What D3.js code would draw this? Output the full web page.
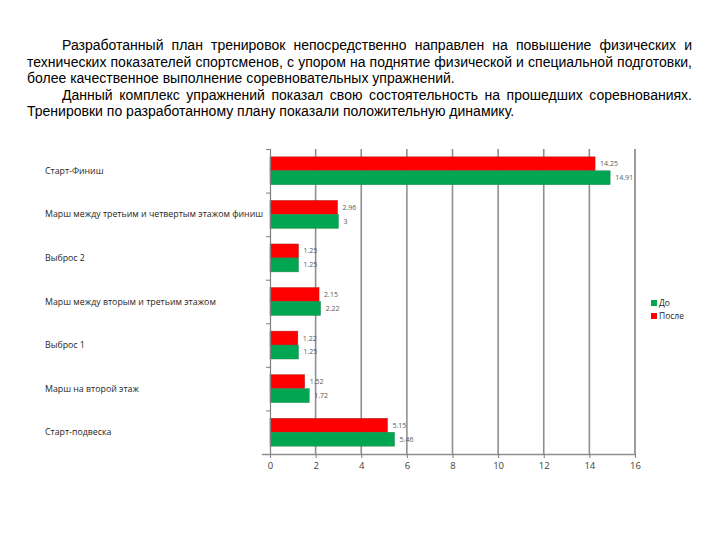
<!DOCTYPE html>
<html>
<head>
<meta charset="utf-8">
<script src="https://cdn.jsdelivr.net/npm/d3@7"></script>
<style>
  html, body { margin: 0; padding: 0; background: #fff; }
  svg { display: block; }
</style>
</head>
<body>
<svg id="chart" width="720" height="540"></svg>
<script>
// ---- Data ----
const categories = [
  "Старт-подвеска",
  "Марш на второй этаж",
  "Выброс 1",
  "Марш между вторым и третьим этажом",
  "Выброс 2",
  "Марш между третьим и четвертым этажом финиш",
  "Старт-Финиш"
];
const seriesNames = ["До", "После"];
const valuesBefore = [5.46, 1.72, 1.25, 2.22, 1.25, 3, 14.91];
const valuesAfter  = [5.15, 1.52, 1.22, 2.15, 1.25, 2.96, 14.25];
const xTicks = [0, 2, 4, 6, 8, 10, 12, 14, 16];

const paragraphLines = [
  { text: "Разработанный план тренировок непосредственно направлен на повышение физических и", indent: true, justify: true },
  { text: "технических показателей спортсменов, с упором на поднятие физической и специальной подготовки,", indent: false, justify: true },
  { text: "более качественное выполнение соревновательных упражнений.", indent: false, justify: false },
  { text: "Данный комплекс упражнений показал свою состоятельность на прошедших соревнованиях.", indent: true, justify: true },
  { text: "Тренировки по разработанному плану показали положительную динамику.", indent: false, justify: false }
];

const svg = d3.select("#chart");

// ---- Paragraph text ----
const textLeft = 27, textRight = 692, indentX = 62;
const paraFont = "'Liberation Sans', Arial, sans-serif";
const pg = svg.append("g");
const probe = pg.append("text").attr("font-family", paraFont).attr("font-size", 13).text(paragraphLines[2].text);
const probeW = probe.node().getComputedTextLength();
probe.remove();
const paraSize = Math.min(15, 13 * 428 / probeW);
const baselines = [50, 66.5, 83, 99.5, 116];
paragraphLines.forEach((ln, i) => {
  const x0 = ln.indent ? indentX : textLeft;
  const t = pg.append("text")
    .attr("x", x0).attr("y", baselines[i])
    .attr("font-family", paraFont)
    .attr("font-size", paraSize)
    .attr("fill", "#000")
    .text(ln.text);
  if (ln.justify) {
    const w = t.node().getComputedTextLength();
    const spaces = (ln.text.match(/ /g) || []).length;
    const extra = (textRight - x0 - w) / spaces;
    t.attr("word-spacing", extra);
  }
});

// ---- Chart ----
const pLeft = 270, pRight = 635, pTop = 149, pBottom = 454;
const x = d3.scaleLinear().domain([0, 16]).range([pLeft, pRight]);
const y0 = d3.scaleBand()
  .domain(categories.slice().reverse())
  .range([pTop, pBottom])
  .paddingInner(0.36)
  .paddingOuter(0.18);
const y1 = d3.scaleBand().domain(["После", "До"]).range([0, y0.bandwidth()]);
const color = d3.scaleOrdinal().domain(seriesNames).range(["#00A651", "#FF0000"]);
const stroke = d3.scaleOrdinal().domain(seriesNames).range(["#2E8B57", "#B22222"]);

// gridlines
const grid = svg.append("g");
grid.selectAll("line").data(xTicks.filter(d => d > 0)).join("line")
  .attr("x1", d => x(d)).attr("x2", d => x(d))
  .attr("y1", pTop).attr("y2", pBottom)
  .attr("stroke", d => d === 16 ? "#5a5a5a" : "#8f8f8f")
  .attr("stroke-width", d => d === 16 ? 1.2 : 1.6);

// bars
const rows = categories.map((c, i) => ({ cat: c, vals: [
  { s: "После", v: valuesAfter[i] },
  { s: "До", v: valuesBefore[i] }
]}));
const g = svg.append("g");
const groups = g.selectAll("g").data(rows).join("g")
  .attr("transform", d => `translate(0,${y0(d.cat)})`);
groups.selectAll("rect").data(d => d.vals).join("rect")
  .attr("x", x(0))
  .attr("y", d => y1(d.s))
  .attr("width", d => x(d.v) - x(0))
  .attr("height", y1.bandwidth())
  .attr("fill", d => color(d.s))
  .attr("stroke", d => stroke(d.s))
  .attr("stroke-width", 0.5);
groups.selectAll("text").data(d => d.vals).join("text")
  .attr("x", d => x(d.v) + 5)
  .attr("y", d => y1(d.s) + y1.bandwidth() / 2)
  .attr("dy", "0.35em")
  .attr("font-family", "'Open Sans', sans-serif")
  .attr("font-size", 7)
  .attr("fill", "#595959")
  .text(d => String(d.v));

// y axis (ticks at band boundaries)
const yLin = d3.scaleLinear().domain([0, categories.length]).range([pTop, pBottom]);
const yAxis = svg.append("g").attr("transform", `translate(${pLeft},0)`)
  .call(d3.axisLeft(yLin).tickValues(d3.range(categories.length + 1)).tickSize(4).tickFormat(""));
yAxis.select(".domain").attr("stroke", "#7f7f7f").attr("stroke-width", 1.2);
yAxis.selectAll(".tick line").attr("stroke", "#7f7f7f");

// category labels
svg.append("g").selectAll("text").data(categories).join("text")
  .attr("x", 45)
  .attr("y", d => y0(d) + y0.bandwidth() / 2)
  .attr("dy", "0.35em")
  .attr("font-family", "'Open Sans', sans-serif")
  .attr("font-size", 8.8)
  .attr("fill", "#262626")
  .text(d => d);

// x axis
const xAxis = svg.append("g").attr("transform", `translate(0,${pBottom})`)
  .call(d3.axisBottom(x).tickValues(xTicks).tickSize(4).tickSizeOuter(0).tickPadding(4));
xAxis.select(".domain").attr("stroke", "#8f8f8f").attr("stroke-width", 1.6)
  .attr("d", `M${pLeft - 8},0.5H${pRight}`);
xAxis.selectAll(".tick line").attr("stroke", "#7f7f7f");
xAxis.selectAll(".tick text")
  .attr("font-family", "'Open Sans', sans-serif")
  .attr("font-size", 9.5)
  .attr("fill", "#404040");

// legend
const legend = svg.append("g");
const legendItems = legend.selectAll("g").data(seriesNames).join("g")
  .attr("transform", (d, i) => `translate(651,${300 + i * 13})`);
legendItems.append("rect").attr("width", 6).attr("height", 6)
  .attr("fill", d => color(d));
legendItems.append("text").attr("x", 8).attr("y", 3).attr("dy", "0.35em")
  .attr("font-family", "'Open Sans', sans-serif")
  .attr("font-size", 8.5)
  .attr("fill", "#262626")
  .text(d => d);
</script>
</body>
</html>
